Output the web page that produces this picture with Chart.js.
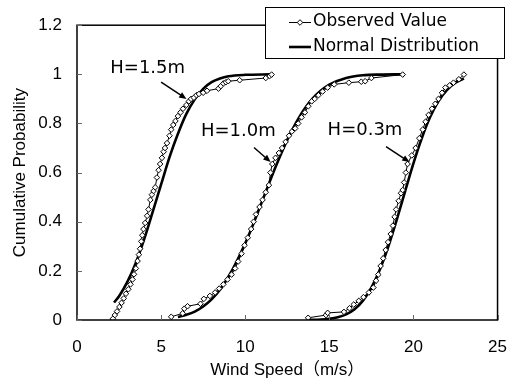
<!DOCTYPE html>
<html>
<head>
<meta charset="utf-8">
<script src="https://cdn.jsdelivr.net/npm/chart.js@4.4.1/dist/chart.umd.min.js"></script>
<style>html,body{margin:0;padding:0;background:#fff}</style>
</head>
<body>
<canvas id="cdf" width="524" height="385"></canvas>
<script>
// observed cumulative probabilities, one pair of arrays per height
var obs15X = [2.13, 2.25, 2.38, 2.52, 2.65, 2.78, 2.91, 3.05, 3.18, 3.30, 3.39, 3.50, 3.60, 3.68, 3.75, 3.82, 3.88, 3.95, 4.05, 4.17, 4.25, 4.36, 4.45, 4.55, 4.65, 4.75, 4.85, 4.94, 5.05, 5.15, 5.23, 5.35, 5.50, 5.60, 5.72, 5.85, 6.00, 6.15, 6.30, 6.50, 6.65, 6.78, 6.95, 7.10, 7.25, 7.50, 7.73, 8.41, 8.55, 8.70, 8.85, 8.99, 9.67, 11.22, 11.45, 11.57];
var obs15Y = [0.005, 0.02, 0.035, 0.053, 0.07, 0.088, 0.107, 0.125, 0.145, 0.165, 0.186, 0.21, 0.24, 0.266, 0.29, 0.32, 0.345, 0.37, 0.395, 0.424, 0.45, 0.489, 0.51, 0.525, 0.54, 0.58, 0.61, 0.635, 0.66, 0.685, 0.70, 0.72, 0.75, 0.775, 0.794, 0.81, 0.83, 0.845, 0.86, 0.875, 0.89, 0.90, 0.905, 0.915, 0.92, 0.925, 0.933, 0.942, 0.952, 0.963, 0.968, 0.972, 0.976, 0.985, 0.993, 0.999];

var obs10X = [5.60, 6.28, 6.38, 6.57, 7.34, 7.54, 7.90, 8.21, 8.45, 8.70, 8.95, 9.19, 9.40, 9.58, 9.78, 9.96, 10.15, 10.35, 10.50, 10.64, 10.85, 11.03, 11.22, 11.41, 11.50, 11.61, 11.80, 12.00, 12.19, 12.40, 12.60, 12.77, 12.97, 13.15, 13.35, 13.55, 13.75, 13.95, 14.13, 14.35, 14.60, 14.90, 15.29, 16.16, 16.90, 17.13, 17.50, 19.36];
var obs10Y = [0.013, 0.027, 0.046, 0.056, 0.066, 0.086, 0.098, 0.112, 0.128, 0.145, 0.165, 0.185, 0.21, 0.238, 0.27, 0.304, 0.335, 0.37, 0.40, 0.43, 0.46, 0.489, 0.52, 0.549, 0.60, 0.635, 0.66, 0.68, 0.70, 0.725, 0.75, 0.767, 0.78, 0.80, 0.825, 0.845, 0.87, 0.89, 0.90, 0.915, 0.93, 0.946, 0.959, 0.966, 0.97, 0.972, 0.985, 0.999];

var obs03X = [13.74, 14.80, 14.90, 15.87, 16.20, 16.45, 16.75, 17.03, 17.35, 17.62, 17.78, 17.91, 18.05, 18.20, 18.35, 18.49, 18.65, 18.78, 18.88, 18.97, 19.12, 19.26, 19.36, 19.45, 19.55, 19.65, 19.90, 20.13, 20.35, 20.55, 20.72, 20.90, 21.10, 21.30, 21.49, 21.70, 21.90, 22.15, 22.38, 22.70, 23.00];
var obs03Y = [0.009, 0.02, 0.029, 0.033, 0.048, 0.063, 0.078, 0.093, 0.112, 0.132, 0.16, 0.185, 0.22, 0.251, 0.285, 0.317, 0.35, 0.384, 0.42, 0.45, 0.485, 0.516, 0.529, 0.56, 0.60, 0.635, 0.67, 0.70, 0.74, 0.775, 0.807, 0.835, 0.86, 0.88, 0.90, 0.925, 0.946, 0.955, 0.966, 0.98, 0.999];

// fitted normal distribution curves
var norm15X = [2.2, 2.5, 3.0, 3.5, 4.0, 4.5, 5.0, 5.5, 6.0, 6.5, 7.0, 7.5, 8.0, 8.5, 9.0, 10.0, 11.5];
var norm15Y = [0.071, 0.097, 0.156, 0.233, 0.330, 0.440, 0.552, 0.663, 0.758, 0.839, 0.898, 0.941, 0.968, 0.983, 0.992, 0.998, 1.0];

var norm10X = [6.0, 6.5, 7.0, 7.5, 8.0, 8.5, 9.0, 9.5, 10.0, 10.5, 11.0, 11.5, 12.0, 12.5, 13.0, 13.5, 14.0, 14.5, 15.0, 16.0, 17.0, 18.0, 19.3];
var norm10Y = [0.012, 0.021, 0.034, 0.055, 0.084, 0.123, 0.176, 0.239, 0.312, 0.394, 0.482, 0.571, 0.655, 0.733, 0.800, 0.857, 0.901, 0.934, 0.958, 0.985, 0.996, 0.999, 1.0];

var norm03X = [13.8, 14.5, 15.0, 15.5, 16.0, 16.5, 17.0, 17.5, 18.0, 18.5, 19.0, 19.5, 20.0, 20.5, 21.0, 21.5, 22.0, 22.5, 23.0];
var norm03Y = [0.0005, 0.002, 0.005, 0.011, 0.023, 0.044, 0.079, 0.132, 0.205, 0.298, 0.407, 0.523, 0.638, 0.741, 0.827, 0.892, 0.937, 0.966, 0.983];

var xTicks = [0, 5, 10, 15, 20, 25];
var yTicks = [0, 0.2, 0.4, 0.6, 0.8, 1, 1.2];
var seriesNames = ['Observed Value', 'Normal Distribution'];

// height labels with arrows, in data units
var notes = [
    { text: 'H=1.5m', at: [4.2, 1.024],  from: [5.0, 0.968],   to: [6.51, 0.90] },
    { text: 'H=1.0m', at: [9.59, 0.77],  from: [10.52, 0.702], to: [11.51, 0.643] },
    { text: 'H=0.3m', at: [17.12, 0.774], from: [18.37, 0.706], to: [19.77, 0.643] }
];

function pts(xs, ys) {
    return xs.map(function (x, i) { return { x: x, y: ys[i] }; });
}

var obsStyle = {
    showLine: true, borderColor: '#000', borderWidth: 1,
    pointStyle: 'rectRot', pointRadius: 2.8, pointBackgroundColor: '#fff',
    pointBorderColor: '#000', pointBorderWidth: 1
};
var normStyle = {
    showLine: true, borderColor: '#000', borderWidth: 2.6,
    pointRadius: 0, cubicInterpolationMode: 'monotone'
};

var datasets = [
    Object.assign({ label: seriesNames[0], data: pts(obs15X, obs15Y) }, obsStyle),
    Object.assign({ label: seriesNames[0], data: pts(obs10X, obs10Y) }, obsStyle),
    Object.assign({ label: seriesNames[0], data: pts(obs03X, obs03Y) }, obsStyle),
    Object.assign({ label: seriesNames[1], data: pts(norm15X, norm15Y) }, normStyle),
    Object.assign({ label: seriesNames[1], data: pts(norm10X, norm10Y) }, normStyle),
    Object.assign({ label: seriesNames[1], data: pts(norm03X, norm03Y) }, normStyle)
];

var decor = {
    id: 'decor',
    afterDraw: function (chart) {
        var ctx = chart.ctx, a = chart.chartArea;
        var xs = chart.scales.x, ys = chart.scales.y;
        ctx.save();
        // frame
        ctx.strokeStyle = '#000';
        ctx.lineWidth = 1.5;
        ctx.strokeRect(a.left, a.top, a.right - a.left, a.bottom - a.top);
        // inner tick marks
        ctx.lineWidth = 1;
        ctx.strokeStyle = '#666';
        xTicks.forEach(function (v) {
            var px = Math.round(xs.getPixelForValue(v)) + 0.5;
            ctx.beginPath(); ctx.moveTo(px, a.bottom); ctx.lineTo(px, a.bottom - 5); ctx.stroke();
        });
        yTicks.forEach(function (v) {
            var py = Math.round(ys.getPixelForValue(v)) + 0.5;
            ctx.beginPath(); ctx.moveTo(a.left, py); ctx.lineTo(a.left + 5, py); ctx.stroke();
        });
        // notes
        ctx.fillStyle = '#000';
        ctx.strokeStyle = '#000';
        ctx.font = '18px "DejaVu Sans", sans-serif';
        ctx.textAlign = 'center';
        ctx.textBaseline = 'middle';
        notes.forEach(function (n) {
            ctx.fillText(n.text, xs.getPixelForValue(n.at[0]), ys.getPixelForValue(n.at[1]));
            var x0 = xs.getPixelForValue(n.from[0]), y0 = ys.getPixelForValue(n.from[1]);
            var x1 = xs.getPixelForValue(n.to[0]),   y1 = ys.getPixelForValue(n.to[1]);
            var ang = Math.atan2(y1 - y0, x1 - x0);
            ctx.lineWidth = 1.5;
            ctx.beginPath(); ctx.moveTo(x0, y0);
            ctx.lineTo(x1 - 5 * Math.cos(ang), y1 - 5 * Math.sin(ang)); ctx.stroke();
            ctx.beginPath();
            ctx.moveTo(x1, y1);
            ctx.lineTo(x1 - 8 * Math.cos(ang - 0.4), y1 - 8 * Math.sin(ang - 0.4));
            ctx.lineTo(x1 - 8 * Math.cos(ang + 0.4), y1 - 8 * Math.sin(ang + 0.4));
            ctx.closePath(); ctx.fill();
        });
        // legend box
        ctx.fillStyle = '#fff';
        ctx.fillRect(265, 7, 239, 51);
        ctx.lineWidth = 1;
        ctx.strokeStyle = '#000';
        ctx.strokeRect(265.5, 7.5, 239, 51);
        ctx.fillStyle = '#000';
        ctx.font = '17px "DejaVu Sans", sans-serif';
        ctx.textAlign = 'left';
        ctx.beginPath(); ctx.moveTo(289, 22.5); ctx.lineTo(311, 22.5); ctx.stroke();
        ctx.fillStyle = '#fff';
        ctx.beginPath();
        ctx.moveTo(300, 19.7); ctx.lineTo(302.8, 22.5); ctx.lineTo(300, 25.3); ctx.lineTo(297.2, 22.5);
        ctx.closePath(); ctx.fill(); ctx.stroke();
        ctx.fillStyle = '#000';
        ctx.fillText(seriesNames[0], 313, 22);
        ctx.lineWidth = 2.6;
        ctx.beginPath(); ctx.moveTo(289, 47); ctx.lineTo(311, 47); ctx.stroke();
        ctx.fillText(seriesNames[1], 313, 47);
        ctx.restore();
    }
};

new Chart(document.getElementById('cdf').getContext('2d'), {
    type: 'scatter',
    data: { datasets: datasets },
    options: {
        responsive: false,
        animation: false,
        layout: { padding: { left: 0, right: 16, top: 17, bottom: 0 } },
        plugins: { legend: { display: false }, tooltip: { enabled: false } },
        scales: {
            x: {
                type: 'linear', min: 0, max: 25,
                afterFit: function (s) { s.height = 65; },
                afterBuildTicks: function (s) { s.ticks = xTicks.map(function (v) { return { value: v }; }); },
                grid: { display: false, drawTicks: false },
                border: { display: false },
                ticks: { padding: 17, color: '#000', font: { size: 17, family: '"Liberation Sans", Arial, sans-serif' } },
                title: {
                    display: true, text: 'Wind Speed（m/s）', color: '#000',
                    padding: { top: 0, bottom: 4 },
                    font: { size: 17, family: '"Liberation Sans", Arial, "Noto Sans CJK JP", sans-serif' }
                }
            },
            y: {
                type: 'linear', min: 0, max: 1.2,
                afterFit: function (s) { s.width = 77; },
                afterBuildTicks: function (s) { s.ticks = yTicks.map(function (v) { return { value: v }; }); },
                grid: { display: false, drawTicks: false },
                border: { display: false },
                ticks: {
                    padding: 15, color: '#000',
                    font: { size: 17, family: '"Liberation Sans", Arial, sans-serif' },
                    callback: function (v) { return String(Math.round(v * 10) / 10); }
                },
                title: {
                    display: true, text: 'Cumulative Probability', color: '#000',
                    padding: { top: 10, bottom: 0 },
                    font: { size: 17, family: '"Liberation Sans", Arial, sans-serif' }
                }
            }
        }
    },
    plugins: [decor]
});
</script>
</body>
</html>
